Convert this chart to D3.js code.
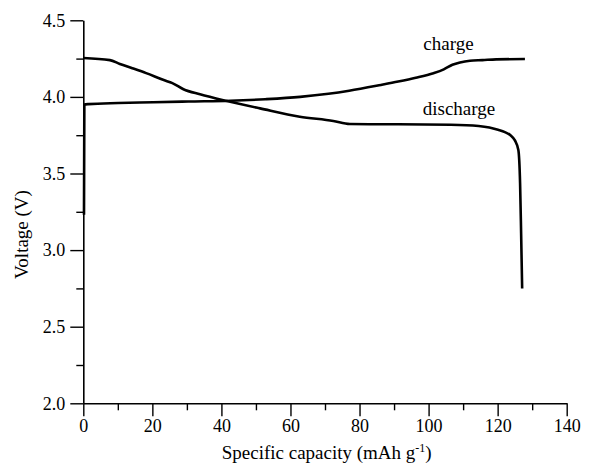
<!DOCTYPE html>
<html>
<head>
<meta charset="utf-8">
<script src="https://cdn.jsdelivr.net/npm/d3@7"></script>
<style>
  html, body { margin: 0; padding: 0; background: #fff; }
  svg { display: block; }
  text { font-family: "Liberation Serif", "Times New Roman", serif; fill: #000; }
</style>
</head>
<body>
<svg id="chart" width="590" height="468"></svg>
<script>
// Charge curve: specific capacity (mAh g-1) and voltage (V)
const chargeCapacity = [0.2, 0.3, 1.5, 10.1, 20.3, 30.4, 42.6, 52.7, 62.8, 71, 77, 86.2, 91.2, 96.3, 101.4, 104.4, 106.9, 109.1, 112, 115.6, 119.6, 127.9];
const chargeVoltage  = [3.23, 3.95, 3.953, 3.96, 3.965, 3.97, 3.975, 3.985, 4.0, 4.02, 4.04, 4.078, 4.10, 4.125, 4.155, 4.18, 4.21, 4.225, 4.236, 4.24, 4.245, 4.247];

// Discharge curve
const dischargeCapacity = [0, 7.7, 10.6, 14.2, 18.2, 23.3, 25.8, 29, 33.8, 41.6, 51.2, 62.7, 72.4, 77.2, 91.2, 106.4, 114.5, 117.6, 120.1, 122.1, 123.7, 125, 126, 126.5, 126.8, 127.1];
const dischargeVoltage  = [4.254, 4.24, 4.215, 4.187, 4.155, 4.11, 4.09, 4.05, 4.017, 3.973, 3.925, 3.871, 3.843, 3.823, 3.821, 3.818, 3.81, 3.80, 3.785, 3.77, 3.75, 3.716, 3.653, 3.436, 3.11, 2.75];

// Axis ticks
const xMajorTicks = [0, 20, 40, 60, 80, 100, 120, 140];
const xMinorTicks = [10, 30, 50, 70, 90, 110, 130];
const yMajorTicks = [2.0, 2.5, 3.0, 3.5, 4.0, 4.5];
const yMinorTicks = [2.25, 2.75, 3.25, 3.75, 4.25];

const svg = d3.select("#chart");

const x = d3.scaleLinear().domain([0, 140]).range([83.3, 566.7]);
const y = d3.scaleLinear().domain([2, 4.5]).range([403.3, 20.3]);

const x0 = x.range()[0], y0 = y.range()[0];

// Minor ticks (no labels)
svg.append("g")
  .attr("transform", `translate(0,${y0})`)
  .call(d3.axisBottom(x).tickValues(xMinorTicks).tickSize(7).tickFormat(""))
  .call(g => g.select(".domain").remove());
svg.append("g")
  .attr("transform", `translate(${x0},0)`)
  .call(d3.axisLeft(y).tickValues(yMinorTicks).tickSize(7).tickFormat(""))
  .call(g => g.select(".domain").remove());

// Major axes
const xAxis = svg.append("g")
  .attr("transform", `translate(0,${y0})`)
  .call(d3.axisBottom(x).tickValues(xMajorTicks).tickSize(13).tickSizeOuter(0).tickPadding(3).tickFormat(d3.format("d")));
const yAxis = svg.append("g")
  .attr("transform", `translate(${x0},0)`)
  .call(d3.axisLeft(y).tickValues(yMajorTicks).tickSize(13).tickSizeOuter(0).tickPadding(5).tickFormat(d3.format(".1f")));

[xAxis, yAxis].forEach(g => {
  g.selectAll("path.domain").attr("stroke", "#000").attr("stroke-width", 1.6);
  g.selectAll(".tick text")
    .attr("font-family", "Liberation Serif, serif")
    .attr("font-size", 18)
    .attr("fill", "#000");
});
svg.selectAll("g .tick line").attr("stroke", "#000").attr("stroke-width", 1.4);

// Axis titles
const xTitle = svg.append("text")
  .attr("x", 326.7)
  .attr("y", 459)
  .attr("text-anchor", "middle")
  .attr("font-size", 19);
xTitle.append("tspan").text("Specific capacity (mAh g");
xTitle.append("tspan").attr("font-size", 12).attr("dy", -7).text("-1");
xTitle.append("tspan").attr("dy", 7).text(")");

svg.append("text")
  .attr("transform", "translate(28,234.5) rotate(-90)")
  .attr("text-anchor", "middle")
  .attr("font-size", 19)
  .text("Voltage (V)");

// Curves
const line = d3.line()
  .x(d => x(d[0]))
  .y(d => y(d[1]))
  .curve(d3.curveMonotoneX);

const chargeData = chargeCapacity.map((c, i) => [c, chargeVoltage[i]]);
const dischargeData = dischargeCapacity.map((c, i) => [c, dischargeVoltage[i]]);

svg.append("path")
  .datum(chargeData)
  .attr("d", line)
  .attr("fill", "none")
  .attr("stroke", "#000")
  .attr("stroke-width", 2.6)
  .attr("stroke-linejoin", "round");

svg.append("path")
  .datum(dischargeData)
  .attr("d", line)
  .attr("fill", "none")
  .attr("stroke", "#000")
  .attr("stroke-width", 2.6)
  .attr("stroke-linejoin", "round");

// Curve labels
svg.append("text")
  .attr("x", 448.5).attr("y", 50)
  .attr("text-anchor", "middle")
  .attr("font-size", 19)
  .text("charge");
svg.append("text")
  .attr("x", 459).attr("y", 115)
  .attr("text-anchor", "middle")
  .attr("font-size", 19)
  .text("discharge");
</script>
</body>
</html>
